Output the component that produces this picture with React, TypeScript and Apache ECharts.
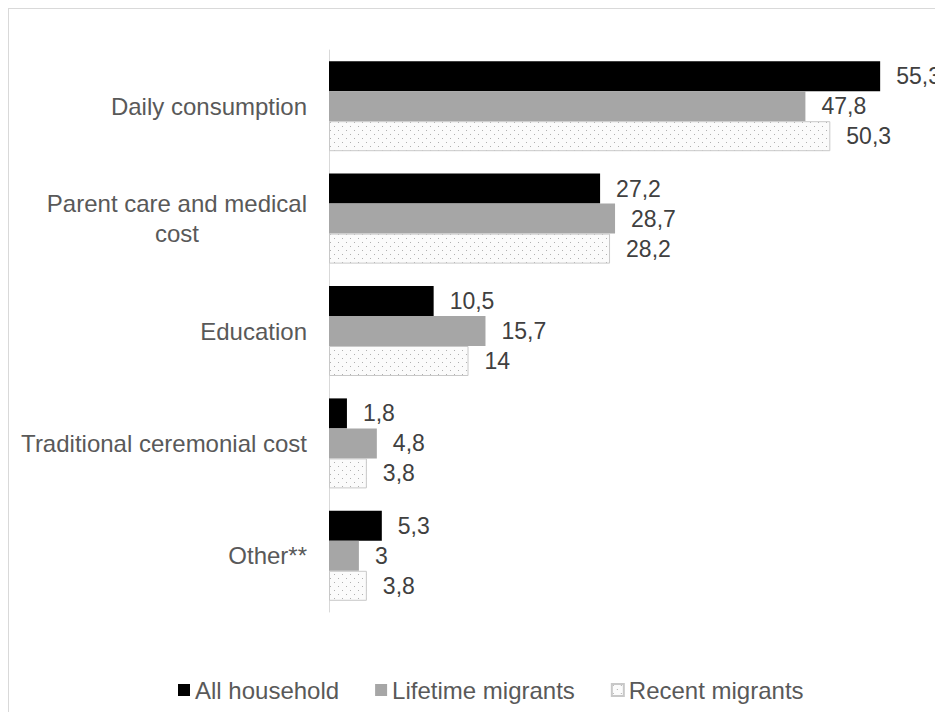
import React, { useEffect, useRef } from "react";
import * as echarts from "echarts";

const categories = [
  "Daily consumption",
  "Parent care and medical\ncost",
  "Education",
  "Traditional ceremonial cost",
  "Other**",
];
const allHousehold = [55.3, 27.2, 10.5, 1.8, 5.3];
const lifetimeMigrants = [47.8, 28.7, 15.7, 4.8, 3];
const recentMigrants = [50.3, 28.2, 14, 3.8, 3.8];
const seriesNames = ["All household", "Lifetime migrants", "Recent migrants"];

const fmt = (v: number) => String(v).replace(".", ",");

function makeDots(): HTMLCanvasElement {
  const c = document.createElement("canvas");
  c.width = 8;
  c.height = 8;
  const ctx = c.getContext("2d")!;
  ctx.fillStyle = "#fbfbfb";
  ctx.fillRect(0, 0, 8, 8);
  ctx.fillStyle = "#b0b0b0";
  ctx.fillRect(1, 1, 1, 1);
  ctx.fillRect(5, 5, 1, 1);
  return c;
}

export default function App() {
  const ref = useRef<HTMLDivElement>(null);
  useEffect(() => {
    if (!ref.current) return;
    document.documentElement.style.overflow = "hidden";
    document.body.style.overflow = "hidden";
    const chart = echarts.init(ref.current, null, { renderer: "svg" });
    const font = "Liberation Sans, Arial, sans-serif";
    const labelStyle = {
      show: true,
      position: "right" as const,
      distance: 16,
      color: "#404040",
      fontSize: 23,
      fontFamily: font,
      formatter: (p: any) => fmt(p.value),
    };
    const dots = makeDots();
    chart.setOption({
      animation: false,
      textStyle: { fontFamily: font },
      grid: { left: 320, top: 41, width: 598, height: 562 },
      legend: {
        left: 164,
        top: 664,
        itemWidth: 12,
        itemHeight: 12,
        itemGap: 36,
        icon: "rect",
        textStyle: { color: "#595959", fontSize: 24, fontFamily: font },
        data: seriesNames,
      },
      xAxis: {
        type: "value",
        min: 0,
        max: 60,
        show: false,
      },
      yAxis: {
        type: "category",
        inverse: true,
        data: categories,
        axisLine: { show: true, lineStyle: { color: "#d9d9d9", width: 1 } },
        axisTick: { show: false },
        axisLabel: {
          margin: 22,
          color: "#595959",
          fontSize: 24,
          lineHeight: 30,
          align: "right",
          formatter: (v: string) =>
            v
              .split("\n")
              .map((s) => `{c|${s}}`)
              .join("\n"),
          rich: {
            c: { align: "center", fontSize: 24, color: "#595959", lineHeight: 30, fontFamily: font },
          },
        },
      },
      series: [
        {
          name: seriesNames[0],
          type: "bar",
          data: allHousehold,
          barWidth: 30,
          barGap: "0%",
          barCategoryGap: "20%",
          itemStyle: { color: "#000000" },
          label: labelStyle,
        },
        {
          name: seriesNames[1],
          type: "bar",
          data: lifetimeMigrants,
          barWidth: 30,
          itemStyle: { color: "#a6a6a6" },
          label: labelStyle,
        },
        {
          name: seriesNames[2],
          type: "bar",
          data: recentMigrants,
          barWidth: 30,
          itemStyle: {
            color: { image: dots, repeat: "repeat" } as any,
            borderColor: "#c8c8c8",
            borderWidth: 1,
          },
          label: labelStyle,
        },
      ],
    });
    return () => chart.dispose();
  }, []);
  return (
    <div
      style={{
        width: 935,
        height: 704,
        borderTop: "1px solid #d9d9d9",
        borderLeft: "1px solid #d9d9d9",
        boxSizing: "border-box",
      }}
    >
      <div ref={ref} style={{ width: 934, height: 703 }} />
    </div>
  );
}
